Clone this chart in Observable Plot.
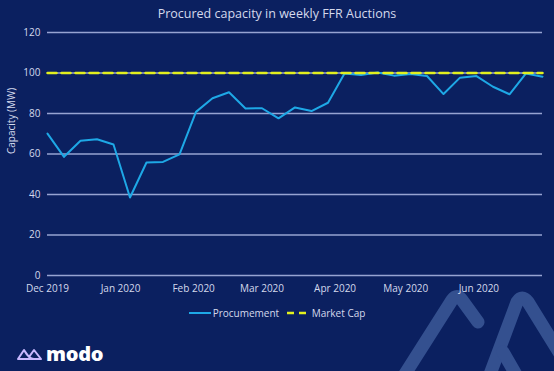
<!DOCTYPE html>
<html>
<head>
<meta charset="utf-8">
<script src="https://cdn.jsdelivr.net/npm/d3@7"></script>
<script src="https://cdn.jsdelivr.net/npm/@observablehq/plot@0.6"></script>
<style>
  html, body { margin: 0; padding: 0; background: #0b2060; }
  #wrap { position: relative; width: 554px; height: 371px; background: #0b2060; overflow: hidden; font-family: "Open Sans", sans-serif; }
  #wrap svg.plot { position: absolute; left: 0; top: 0; }
  .title { position: absolute; left: 0; width: 554px; top: 5px; text-align: center; color: #d4d9ec; font-size: 12.5px; }
  .legend { position: absolute; top: 305px; left: 0; width: 554px; text-align: center; color: #d4d9ec; font-size: 10px; }
  .legend span.item { display: inline-flex; align-items: center; margin: 0 2px; }
  .logo { position: absolute; left: 16px; top: 340px; color: #fff; font-family: "Open Sans", sans-serif; font-weight: 800; font-size: 20px; display: flex; align-items: center; letter-spacing: -0.3px; }
</style>
</head>
<body>
<div id="wrap">
  <svg width="554" height="371" style="position:absolute;left:0;top:0">
    <g fill="none" stroke="#34508f" stroke-width="13" stroke-linecap="round" stroke-linejoin="round">
      <path d="M398,385 L452,300 Q457,293 462,300 L478,322"/>
      <path d="M486,385 L517,302 Q522,294 528,302 L570,370"/>
      <path d="M503,352 L518,378"/>
    </g>
  </svg>
  <div class="title">Procured capacity in weekly FFR Auctions</div>
  <div class="legend">
    <span class="item"><svg width="24" height="6"><line x1="0" y1="3" x2="22" y2="3" stroke="#1ea8e6" stroke-width="2"/></svg>Procumement</span>
    <span class="item"><svg width="26" height="6"><line x1="1" y1="3" x2="25" y2="3" stroke="#e3f01e" stroke-width="2.5" stroke-dasharray="7,5"/></svg>Market Cap</span>
  </div>
  <div class="logo"><svg width="28" height="14" viewBox="0 0 28 14" style="margin-right:2px"><path d="M2,12 L8,3 L13,10 L18,3 L25,12 Z M8,3 Q13,12 18,12" fill="none" stroke="#c9b8ff" stroke-width="2" stroke-linejoin="round"/></svg>modo</div>
</div>
<script>
const dates = ["2019-12-01","2019-12-08","2019-12-15","2019-12-22","2019-12-29","2020-01-05","2020-01-12","2020-01-19","2020-01-26","2020-02-02","2020-02-09","2020-02-16","2020-02-23","2020-03-01","2020-03-08","2020-03-15","2020-03-22","2020-03-29","2020-04-05","2020-04-12","2020-04-19","2020-04-26","2020-05-03","2020-05-10","2020-05-17","2020-05-24","2020-05-31","2020-06-07","2020-06-14","2020-06-21","2020-06-28"];
const procurement = [70.1,58.6,66.5,67.3,64.7,38.5,55.8,56.1,59.8,80.8,87.5,90.5,82.5,82.6,77.6,83.0,81.2,85.3,99.8,99.0,100.2,98.7,99.5,98.5,89.6,97.7,98.5,93.2,89.5,99.8,98.2];
const marketCap = dates.map(() => 100);
const yTicks = [0,20,40,60,80,100,120];
const xTicks = ["2019-12-01","2020-01-01","2020-02-01","2020-03-01","2020-04-01","2020-05-01","2020-06-01"];

const parse = d3.utcParse("%Y-%m-%d");
const rows = dates.map((d, i) => ({date: parse(d), procurement: procurement[i], cap: marketCap[i]}));

const chart = Plot.plot({
  width: 554,
  height: 371,
  marginTop: 32,
  marginBottom: 96,
  marginLeft: 47,
  marginRight: 12,
  style: {background: "transparent", color: "#d4d9ec", fontFamily: "Open Sans, sans-serif", fontSize: "10px", overflow: "visible"},
  x: {type: "utc", domain: [parse(dates[0]), parse(dates[dates.length - 1])], ticks: xTicks.map(parse), tickFormat: d3.utcFormat("%b %Y"), tickSize: 0, tickPadding: 9, label: null},
  y: {domain: [0, 120], ticks: yTicks, tickSize: 0, tickPadding: 7, label: null},
  marks: [
    Plot.ruleY(yTicks, {stroke: "#97a3d2", strokeWidth: 1.5, strokeOpacity: 1}),
    Plot.axisX({ticks: xTicks.map(parse), tickFormat: d3.utcFormat("%b %Y"), tickSize: 0, tickPadding: 9, fill: "#d4d9ec", fontSize: 10}),
    Plot.axisY({ticks: yTicks, tickSize: 0, tickPadding: 7, fill: "#d4d9ec", fontSize: 10, label: null}),
    Plot.line(rows, {x: "date", y: "procurement", stroke: "#1ea8e6", strokeWidth: 2}),
    Plot.line(rows, {x: "date", y: "cap", stroke: "#e3f01e", strokeWidth: 2.5, strokeDasharray: "9,5"}),
    Plot.text(["Capacity (MW)"], {frameAnchor: "left", dx: -36, dy: 0, rotate: -90, fill: "#d4d9ec", fontSize: 10, text: d => d})
  ]
});
chart.classList.add("plot");
document.getElementById("wrap").insertBefore(chart, document.querySelector(".title"));
</script>
</body>
</html>
